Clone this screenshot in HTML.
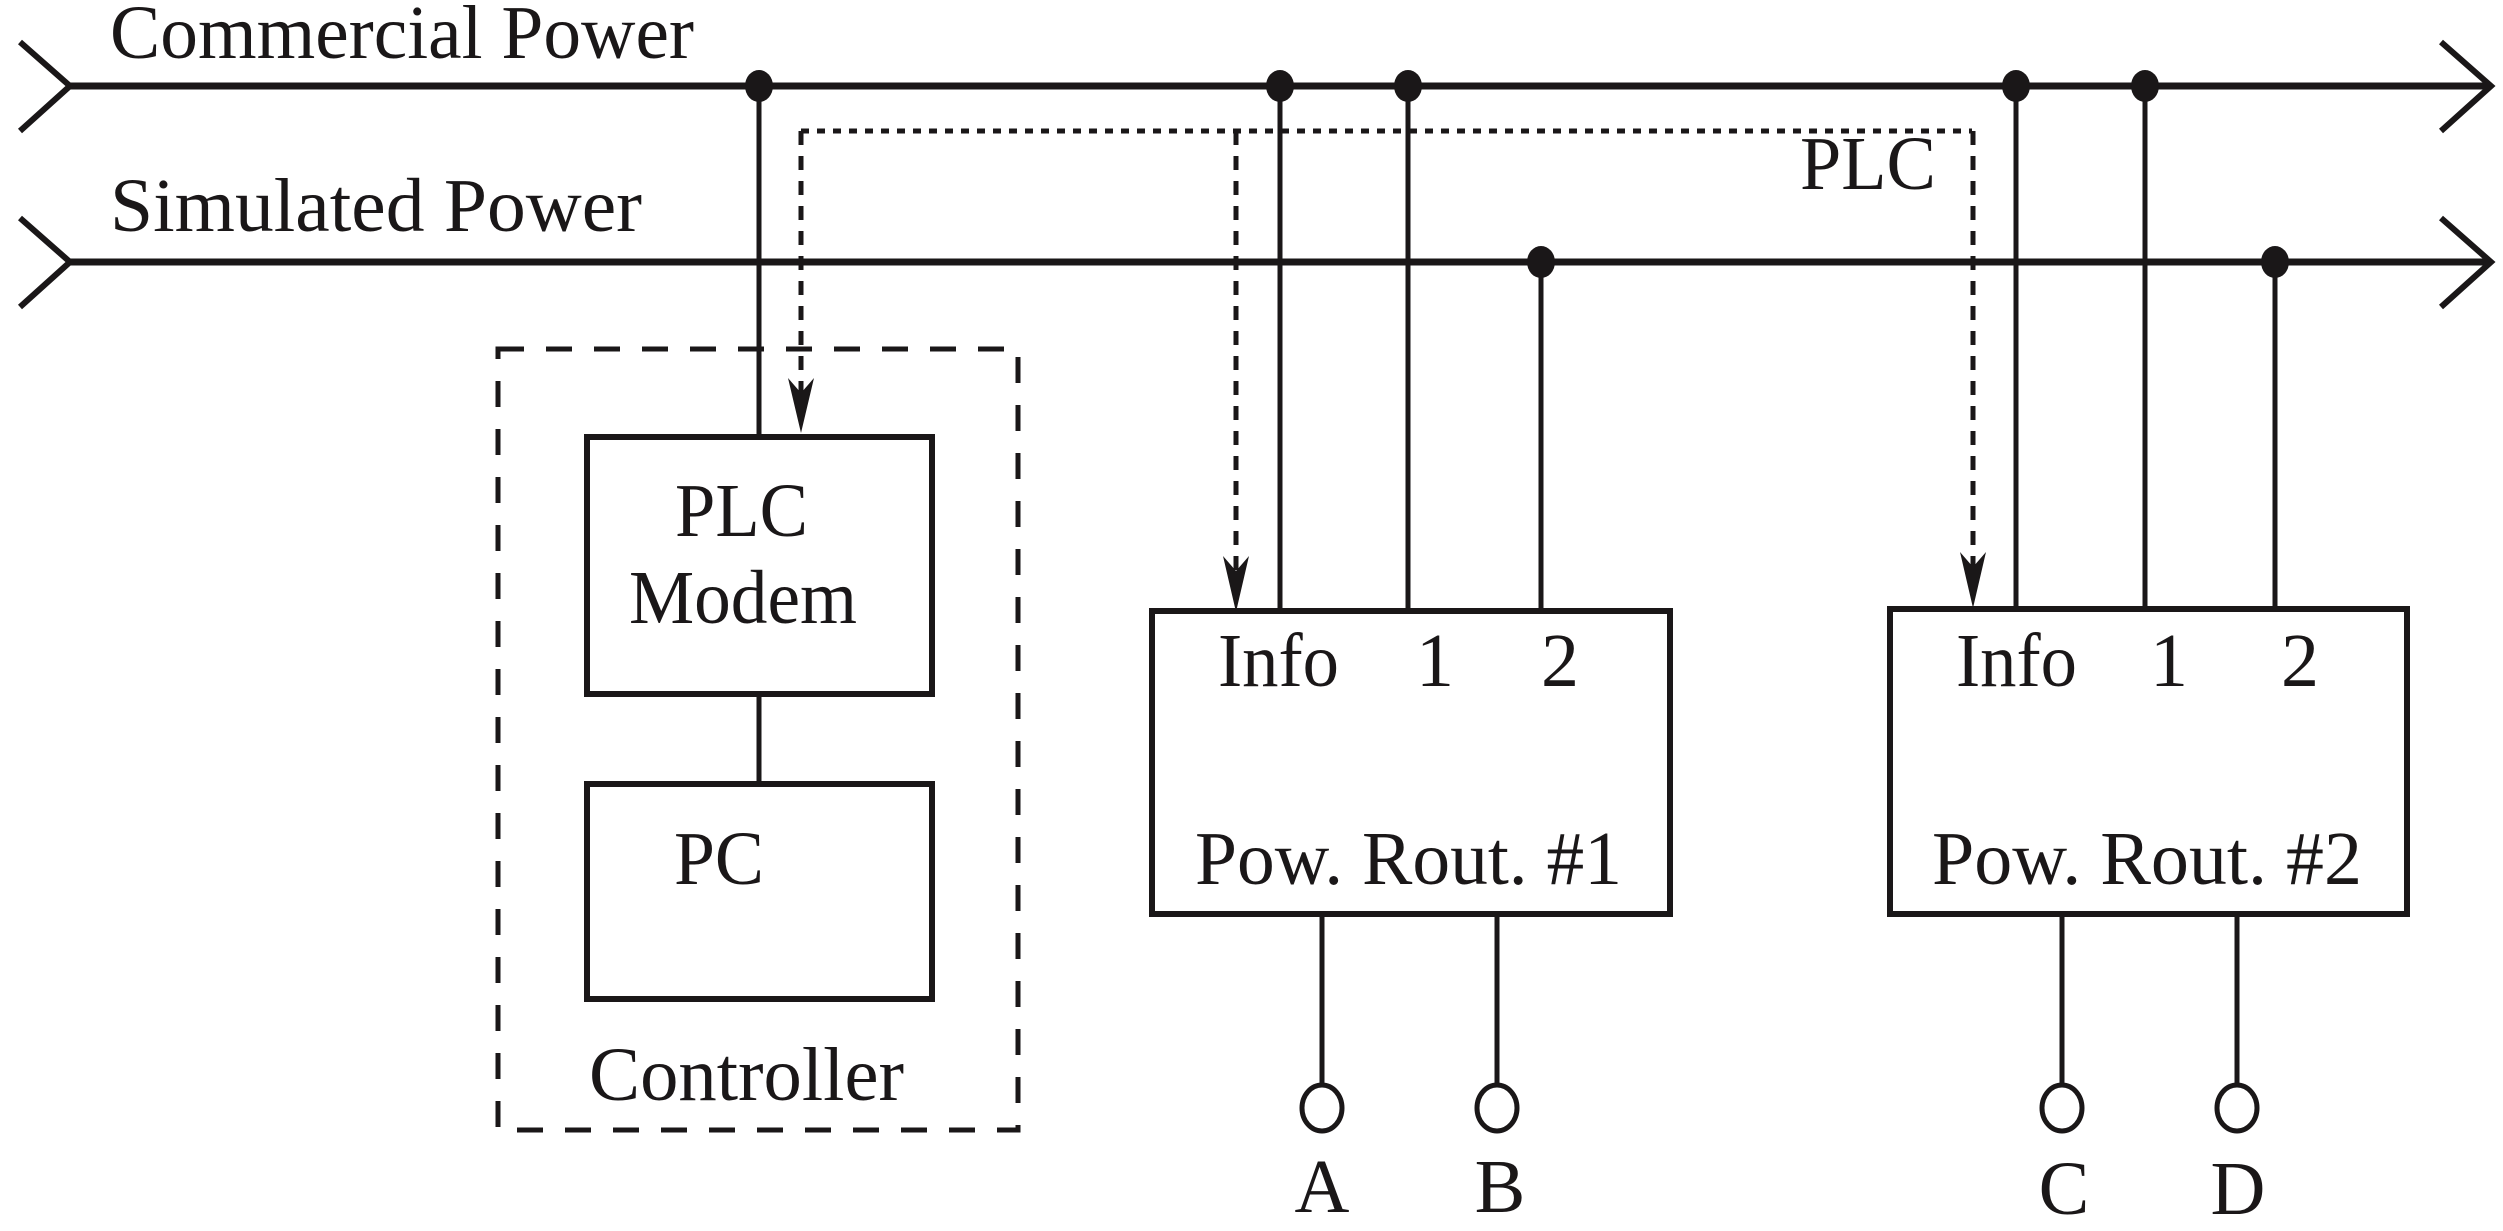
<!DOCTYPE html>
<html><head><meta charset="utf-8"><style>html,body{margin:0;padding:0;background:#fff}svg{display:block}</style></head>
<body>
<svg width="2503" height="1231" viewBox="0 0 2503 1231" xmlns="http://www.w3.org/2000/svg" font-family="'Liberation Serif', serif" font-size="76" fill="#1a1718">
<g stroke="#1a1718" fill="none" stroke-linecap="butt">
  <line x1="68" y1="86" x2="2490" y2="86" stroke-width="7"/>
  <line x1="68" y1="262" x2="2490" y2="262" stroke-width="7"/>
  <polyline points="20,42 70,86 20,131" stroke-width="6"/>
  <polyline points="20,218 70,262 20,307" stroke-width="6"/>
  <polyline points="2441,42 2491,86 2441,131" stroke-width="6"/>
  <polyline points="2441,218 2491,262 2441,307" stroke-width="6"/>
  <g stroke-width="5">
    <line x1="759" y1="86" x2="759" y2="435"/>
    <line x1="759" y1="695" x2="759" y2="782"/>
    <line x1="1280" y1="86" x2="1280" y2="611"/>
    <line x1="1408" y1="86" x2="1408" y2="611"/>
    <line x1="1541" y1="262" x2="1541" y2="611"/>
    <line x1="2016" y1="86" x2="2016" y2="609"/>
    <line x1="2145" y1="86" x2="2145" y2="609"/>
    <line x1="2275" y1="262" x2="2275" y2="609"/>
    <line x1="1322" y1="915" x2="1322" y2="1086"/>
    <line x1="1497" y1="915" x2="1497" y2="1086"/>
    <line x1="2062" y1="915" x2="2062" y2="1086"/>
    <line x1="2237" y1="915" x2="2237" y2="1086"/>
  </g>
  <rect x="587" y="437" width="345" height="257" stroke-width="6"/>
  <rect x="587" y="784" width="345" height="215" stroke-width="6"/>
  <rect x="1152" y="611" width="518" height="303" stroke-width="6"/>
  <rect x="1890" y="609" width="517" height="305" stroke-width="6"/>
  <rect x="498" y="349" width="520" height="781" stroke-width="5" stroke-dasharray="26 22"/>
  <line x1="801" y1="131" x2="1972" y2="131" stroke-width="5" stroke-dasharray="8 8"/>
  <g stroke-width="5" stroke-dasharray="14 11">
    <line x1="801" y1="131" x2="801" y2="400"/>
    <line x1="1236" y1="131" x2="1236" y2="575"/>
    <line x1="1973" y1="131" x2="1973" y2="570"/>
  </g>
  <g stroke-width="5">
    <ellipse cx="1322" cy="1108" rx="20" ry="23"/>
    <ellipse cx="1497" cy="1108" rx="20" ry="23"/>
    <ellipse cx="2062" cy="1108" rx="20" ry="23"/>
    <ellipse cx="2237" cy="1108" rx="20" ry="23"/>
  </g>
</g>
<g fill="#1a1718">
  <path d="M801,433 L788,378 L801,393 L814,378 Z"/>
  <path d="M1236,612 L1223,556 L1236,571 L1249,556 Z"/>
  <path d="M1973,608 L1960,552 L1973,567 L1986,552 Z"/>
  <ellipse cx="759" cy="86" rx="14" ry="16"/>
  <ellipse cx="1280" cy="86" rx="14" ry="16"/>
  <ellipse cx="1408" cy="86" rx="14" ry="16"/>
  <ellipse cx="2016" cy="86" rx="14" ry="16"/>
  <ellipse cx="2145" cy="86" rx="14" ry="16"/>
  <ellipse cx="1541" cy="262" rx="14" ry="16"/>
  <ellipse cx="2275" cy="262" rx="14" ry="16"/>
</g>
<text x="110" y="58" textLength="584" lengthAdjust="spacingAndGlyphs">Commercial Power</text>
<text x="110" y="231" textLength="532" lengthAdjust="spacingAndGlyphs">Simulated Power</text>
<text x="1800" y="189" textLength="136" lengthAdjust="spacingAndGlyphs">PLC</text>
<text x="675" y="536" textLength="133" lengthAdjust="spacingAndGlyphs">PLC</text>
<text x="629" y="623" textLength="228" lengthAdjust="spacingAndGlyphs">Modem</text>
<text x="674" y="884" textLength="90" lengthAdjust="spacingAndGlyphs">PC</text>
<text x="589" y="1100" textLength="315" lengthAdjust="spacingAndGlyphs">Controller</text>
<text x="1218" y="686" textLength="121" lengthAdjust="spacingAndGlyphs">Info</text>
<text x="1416" y="686">1</text>
<text x="1541" y="686">2</text>
<text x="1195" y="884" textLength="427" lengthAdjust="spacingAndGlyphs">Pow. Rout. #1</text>
<text x="1956" y="686" textLength="121" lengthAdjust="spacingAndGlyphs">Info</text>
<text x="2150" y="686">1</text>
<text x="2281" y="686">2</text>
<text x="1932" y="884" textLength="430" lengthAdjust="spacingAndGlyphs">Pow. Rout. #2</text>
<text x="1322" y="1212" text-anchor="middle">A</text>
<text x="1500" y="1212" text-anchor="middle">B</text>
<text x="2064" y="1214" text-anchor="middle">C</text>
<text x="2238" y="1214" text-anchor="middle">D</text>
</svg>
</body></html>
